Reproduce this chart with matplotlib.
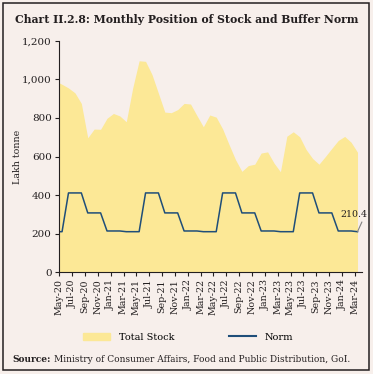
import matplotlib.pyplot as plt
from matplotlib.patches import Rectangle
from matplotlib.lines import Line2D
from matplotlib.ticker import FuncFormatter

# monthly data, May-20 to Apr-24 (lakh tonne)
months = ['May-20', 'Jun-20', 'Jul-20', 'Aug-20', 'Sep-20', 'Oct-20', 'Nov-20', 'Dec-20',
          'Jan-21', 'Feb-21', 'Mar-21', 'Apr-21', 'May-21', 'Jun-21', 'Jul-21', 'Aug-21',
          'Sep-21', 'Oct-21', 'Nov-21', 'Dec-21', 'Jan-22', 'Feb-22', 'Mar-22', 'Apr-22',
          'May-22', 'Jun-22', 'Jul-22', 'Aug-22', 'Sep-22', 'Oct-22', 'Nov-22', 'Dec-22',
          'Jan-23', 'Feb-23', 'Mar-23', 'Apr-23', 'May-23', 'Jun-23', 'Jul-23', 'Aug-23',
          'Sep-23', 'Oct-23', 'Nov-23', 'Dec-23', 'Jan-24', 'Feb-24', 'Mar-24', 'Apr-24']
total_stock = [990, 974, 955, 930, 875, 697, 742, 741, 798, 823, 810, 780,
               955, 1096, 1093, 1025, 928, 830, 827, 843, 875, 872, 812, 754,
               815, 804, 743, 662, 584, 523, 553, 560, 618, 624, 566, 521,
               705, 728, 702, 636, 590, 560, 600, 642, 683, 704, 674, 622]
norm = [210.4, 210.4, 411.2, 411.2, 411.2, 307.7, 307.7, 307.7, 214.1, 214.1, 214.1, 210.4,
        210.4, 210.4, 411.2, 411.2, 411.2, 307.7, 307.7, 307.7, 214.1, 214.1, 214.1, 210.4,
        210.4, 210.4, 411.2, 411.2, 411.2, 307.7, 307.7, 307.7, 214.1, 214.1, 214.1, 210.4,
        210.4, 210.4, 411.2, 411.2, 411.2, 307.7, 307.7, 307.7, 214.1, 214.1, 214.1, 210.4]

bg = '#f7efeb'
fill_col = '#fce896'
line_col = '#1f4e79'
txt_col = '#231f20'

plt.rcParams['font.family'] = 'DejaVu Serif'

fig = plt.figure(figsize=(3.73, 3.74), dpi=100, facecolor=bg)
ax = fig.add_axes([59.3 / 373, 1 - 272.3 / 374, (362 - 59.3) / 373, (272.3 - 40.7) / 374])
ax.set_facecolor('none')

x = list(range(len(months)))
ax.fill_between(x, total_stock, 0, color=fill_col, linewidth=0, label='Total Stock')
ax.plot(x, norm, color=line_col, linewidth=1.1, label='Norm')

ax.annotate(f'{norm[-1]}', xy=(x[-1], norm[-1]), xytext=(7, 9), textcoords='offset points',
            ha='right', va='bottom', fontsize=6.8, color=txt_col,
            arrowprops=dict(arrowstyle='-', color='gray', lw=0.8, shrinkA=0, shrinkB=0,
                            relpos=(0.85, 0)))

ax.set_xlim(0.57, 47.7)
ax.set_ylim(0, 1200)
ax.set_yticks(range(0, 1201, 200))
ax.yaxis.set_major_formatter(FuncFormatter(lambda v, p: f'{int(v):,}'))
ax.set_xticks([i + 0.57 for i in range(0, len(months) - 1, 2)])
ax.set_xticklabels(months[0:len(months) - 1:2], rotation=90, fontsize=6.8, color=txt_col)
ax.tick_params(axis='y', labelsize=7.5, colors=txt_col, length=3, width=0.8, pad=2.5)
ax.tick_params(axis='x', length=3, width=0.8, colors=txt_col, pad=2)
for s in ['top', 'right']:
    ax.spines[s].set_visible(False)
for s in ['left', 'bottom']:
    ax.spines[s].set_color(txt_col)
    ax.spines[s].set_linewidth(0.8)
ax.set_ylabel('Lakh tonne', fontsize=6.8, color=txt_col)
ax.yaxis.set_label_coords(-(59.3 - 21.5) / (362 - 59.3), 0.5)

fig.text(15 / 373, 1 - 19.5 / 374, 'Chart II.2.8: Monthly Position of Stock and Buffer Norm',
         fontsize=7.85, fontweight='bold', color=txt_col, ha='left', va='center')

handles = [Rectangle((0, 0), 1, 1, color=fill_col), Line2D([0], [0], color=line_col, lw=1.5)]
fig.legend(handles, ['Total Stock', 'Norm'], ncol=2, frameon=False, fontsize=7,
           loc='center', bbox_to_anchor=(188 / 373, 1 - 337 / 374),
           handlelength=2.8, columnspacing=5.6, handletextpad=0.9)

src = fig.text(12 / 373, 1 - 359.5 / 374, 'Source:', fontsize=6.5, fontweight='bold',
               color=txt_col, ha='left', va='center')
renderer = fig.canvas.get_renderer()
bb = src.get_window_extent(renderer)
fig.text((bb.x1 + 3) / fig.bbox.width, 1 - 359.5 / 374,
         'Ministry of Consumer Affairs, Food and Public Distribution, GoI.',
         fontsize=6.5, color=txt_col, ha='left', va='center')

fig.patches.append(Rectangle((3 / 373, 1 - 370 / 374), 366 / 373, 367 / 374, transform=fig.transFigure,
                             fill=False, edgecolor=txt_col, linewidth=1.1))

fig.savefig('out.png', dpi=100, facecolor=bg)
